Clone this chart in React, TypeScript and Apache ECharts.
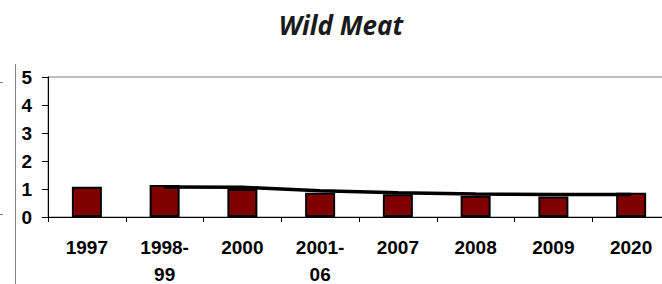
import React, { useEffect, useRef } from "react";
import * as echarts from "echarts";

const categories = ["1997", "1998-\n99", "2000", "2001-\n06", "2007", "2008", "2009", "2020"];
const barValues = [1.08, 1.14, 1.0, 0.87, 0.81, 0.76, 0.73, 0.87];
const trendValues: (number | string)[] = ["-", 1.07, 1.06, 0.94, 0.87, 0.82, 0.8, 0.8];
const yTicks = { min: 0, max: 5, interval: 1 };
const titleText = "Wild Meat";

export default function App() {
  const ref = useRef<HTMLDivElement>(null);
  useEffect(() => {
    if (!ref.current) return;
    const chart = echarts.init(ref.current, undefined, { renderer: "svg" });
    chart.setOption({
      animation: false,
      backgroundColor: "#ffffff",
      title: {
        text: titleText,
        left: 336,
        textAlign: "center",
        top: 7,
        textStyle: {
          fontFamily: "Open Sans",
          fontStyle: "italic",
          fontWeight: "bold",
          fontSize: 26,
          color: "#1a1a1a",
        },
      },
      grid: {
        left: 48,
        right: 2,
        top: 77,
        bottom: 284 - 217,
        outerBoundsMode: "none",
        containLabel: false,
        show: true,
        borderColor: "#808080",
        borderWidth: 1,
        backgroundColor: "transparent",
      },
      xAxis: {
        type: "category",
        data: categories,
        boundaryGap: true,
        axisLine: { show: true, lineStyle: { color: "#000", width: 1 } },
        axisTick: { show: true, alignWithLabel: false, length: 5, lineStyle: { color: "#000" } },
        axisLabel: {
          interval: 0,
          margin: 17,
          fontFamily: "Liberation Sans, Arial",
          fontWeight: "bold",
          fontSize: 19,
          lineHeight: 27,
          color: "#000",
        },
        splitLine: { show: false },
      },
      yAxis: {
        type: "value",
        min: yTicks.min,
        max: yTicks.max,
        interval: yTicks.interval,
        axisLine: { show: true, lineStyle: { color: "#000", width: 1 } },
        axisTick: { show: true, length: 6, lineStyle: { color: "#000" } },
        axisLabel: {
          margin: 16,
          fontFamily: "Liberation Sans, Arial",
          fontWeight: "bold",
          fontSize: 19,
          color: "#000",
        },
        splitLine: { show: false },
      },
      series: [
        {
          type: "bar",
          data: barValues,
          barWidth: 30,
          itemStyle: { color: "#800000", borderColor: "#000", borderWidth: 2 },
          z: 2,
        },
        {
          type: "line",
          data: trendValues,
          showSymbol: false,
          symbol: "none",
          lineStyle: { color: "#000", width: 3.5, cap: "butt" },
          z: 3,
        },
      ],
      graphic: [
        { type: "line", shape: { x1: 15.5, y1: 64, x2: 15.5, y2: 284 }, style: { stroke: "#808080", lineWidth: 1 } },
        { type: "line", shape: { x1: 0, y1: 82.5, x2: 3, y2: 82.5 }, style: { stroke: "#808080", lineWidth: 1 } },
        { type: "line", shape: { x1: 0, y1: 214.5, x2: 3, y2: 214.5 }, style: { stroke: "#808080", lineWidth: 1 } },
      ],
    });
    return () => chart.dispose();
  }, []);
  return (
    <div style={{ position: "fixed", left: 0, top: 0, width: 662, height: 284, overflow: "hidden", background: "#fff" }}>
      <div ref={ref} style={{ width: 672, height: 284 }} />
    </div>
  );
}
